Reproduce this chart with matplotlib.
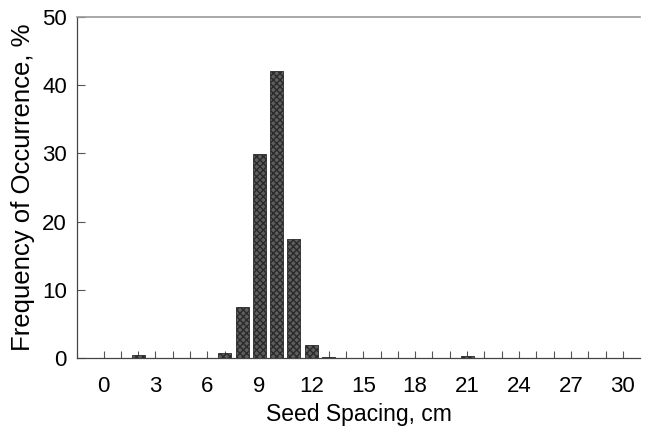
import matplotlib
matplotlib.use("Agg")
import matplotlib.pyplot as plt

# seed spacing (cm) and frequency of occurrence (%)
spacing = [2, 7, 8, 9, 10, 11, 12, 13, 14, 21]
freq = [0.4, 0.7, 7.5, 29.9, 42.1, 17.4, 1.9, 0.2, 0.05, 0.3]

xticks = [0, 3, 6, 9, 12, 15, 18, 21, 24, 27, 30]
yticks = [0, 10, 20, 30, 40, 50]

plt.rcParams['font.family'] = ['Liberation Sans', 'DejaVu Sans']
plt.rcParams['hatch.color'] = '#3a3a3a'

fig = plt.figure(figsize=(6.5, 4.29), dpi=100)
ax = fig.add_axes([0.118, 0.1655, 0.867, 0.7945])

ax.bar(spacing, freq, width=0.75, color='#5e5e5e', edgecolor='#2a2a2a',
       linewidth=0.6, hatch='xxxxx', zorder=2)

ax.set_xlim(-1.55, 31)
ax.set_ylim(0, 50)
ax.set_xticks(xticks)
ax.set_xticks(range(0, 31), minor=True)
ax.set_yticks(yticks)

ax.tick_params(axis='both', which='both', direction='in', color='#555555',
               labelsize=16, width=0.8)
ax.tick_params(axis='x', which='major', length=5, pad=13)
ax.tick_params(axis='x', which='minor', length=5)
ax.tick_params(axis='y', length=6, pad=7)

for s in ['left', 'bottom']:
    ax.spines[s].set_color('#444444')
    ax.spines[s].set_linewidth(0.9)
ax.spines['top'].set_color('#999999')
ax.spines['top'].set_linewidth(1.2)
ax.spines['right'].set_visible(False)

ax.set_xlabel("Seed Spacing, cm", fontsize=16.5, labelpad=4)
ax.set_ylabel("Frequency of Occurrence, %", fontsize=18.5, labelpad=5)

fig.savefig("out.png", dpi=100)
